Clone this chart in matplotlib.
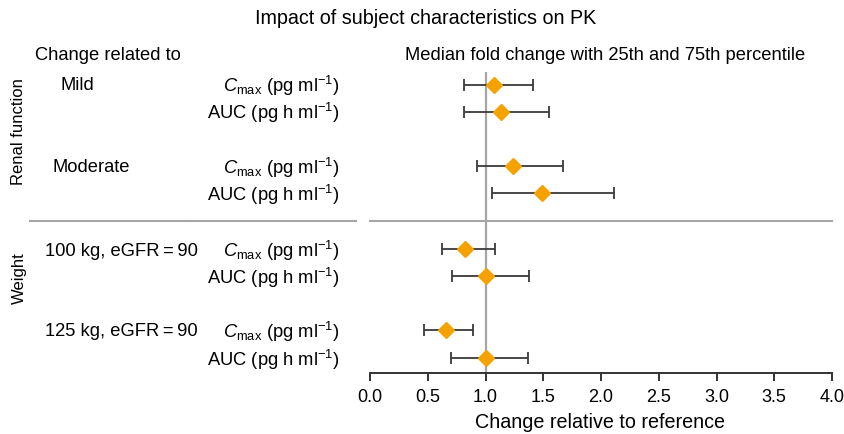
import matplotlib.pyplot as plt
from matplotlib.lines import Line2D
import numpy as np

plt.rcParams['font.family'] = ['Liberation Sans', 'DejaVu Sans']
plt.rcParams['mathtext.fontset'] = 'custom'
plt.rcParams['mathtext.rm'] = 'Liberation Sans'
plt.rcParams['mathtext.it'] = 'Liberation Sans:italic'

# data
groups = ['Renal function', 'Weight']
subgroups = ['Mild', 'Moderate', '100 kg, eGFR\u2009=\u200990', '125 kg, eGFR\u2009=\u200990']
params = [r'$\mathit{C}_{\rm max}$ (pg ml$^{-1}$)', r'AUC (pg h ml$^{-1}$)']
median = [1.07, 1.13, 1.24, 1.49, 0.82, 1.00, 0.66, 1.00]
p25 = [0.81, 0.81, 0.93, 1.06, 0.62, 0.71, 0.47, 0.70]
p75 = [1.41, 1.55, 1.67, 2.11, 1.08, 1.38, 0.89, 1.37]
xticks = np.arange(0, 4.01, 0.5)

W, H = 844, 435
fig = plt.figure(figsize=(W / 100, H / 100), dpi=100)


def fx(px):
    return px / W


def fy(py):
    return 1 - py / H


ax = fig.add_axes([fx(370), fy(374), fx(832) - fx(370), fy(73) - fy(374)])

# row layout (y in row units, top to bottom)
ypos = np.array([0, 1, 3, 4, 6.05, 7.05, 9.05, 10.05])
med = np.array(median)
lo = med - np.array(p25)
hi = np.array(p75) - med

ax.axvline(1.0, color='#a6a6a6', lw=1.6, zorder=1)
ax.errorbar(med, ypos, xerr=[lo, hi], fmt='none', ecolor='#3a3a3a',
            elinewidth=1.3, capsize=4.5, capthick=1.3, zorder=2)
ax.plot(med, ypos, 'D', color='#f5a200', ms=8.5, mec='#f5a200', zorder=3)

ax.set_xlim(0, 4)
ax.set_ylim(10.62, -0.48)
ax.set_xticks(xticks)
ax.set_xticklabels(['%.1f' % t for t in xticks], fontsize=13)
ax.set_yticks([])
for s in ['top', 'right', 'left']:
    ax.spines[s].set_visible(False)
ax.spines['bottom'].set_color('#333333')
ax.spines['bottom'].set_linewidth(1.4)
ax.tick_params(axis='x', length=6, width=1.4, color='#333333', pad=5)
ax.patch.set_alpha(0)

# separator line between groups
for x0, x1 in [(30, 188), (190, 356), (370, 832)]:
    fig.add_artist(Line2D([fx(x0), fx(x1)], [fy(222), fy(222)], color='#a6a6a6', lw=1.5))

fig.text(fx(426), fy(18), 'Impact of subject characteristics on PK', ha='center', va='center', fontsize=14.2)
fig.text(fx(35), fy(55), 'Change related to', ha='left', va='center', fontsize=13.2)
fig.text(fx(605), fy(55), 'Median fold change with 25th and 75th percentile', ha='center', va='center', fontsize=13.2)
fig.text(fx(600), fy(423), 'Change relative to reference', ha='center', va='center', fontsize=14.2)

fig.text(fx(19), fy(132), groups[0], rotation=90, ha='center', va='center', fontsize=12)
fig.text(fx(19), fy(278), groups[1], rotation=90, ha='center', va='center', fontsize=12)

sub_x = [60, 53, 45, 45]
sub_y = [86, 168, 251, 332]
for name, x, y in zip(subgroups, sub_x, sub_y):
    fig.text(fx(x), fy(y), name, ha='left', va='center', fontsize=13.2)

row_y = [86, 113, 168, 195, 251, 278, 332, 360]
for i, y in enumerate(row_y):
    fig.text(fx(340), fy(y), params[i % 2], ha='right', va='center', fontsize=13.2)

fig.savefig('out.png', dpi=100)
